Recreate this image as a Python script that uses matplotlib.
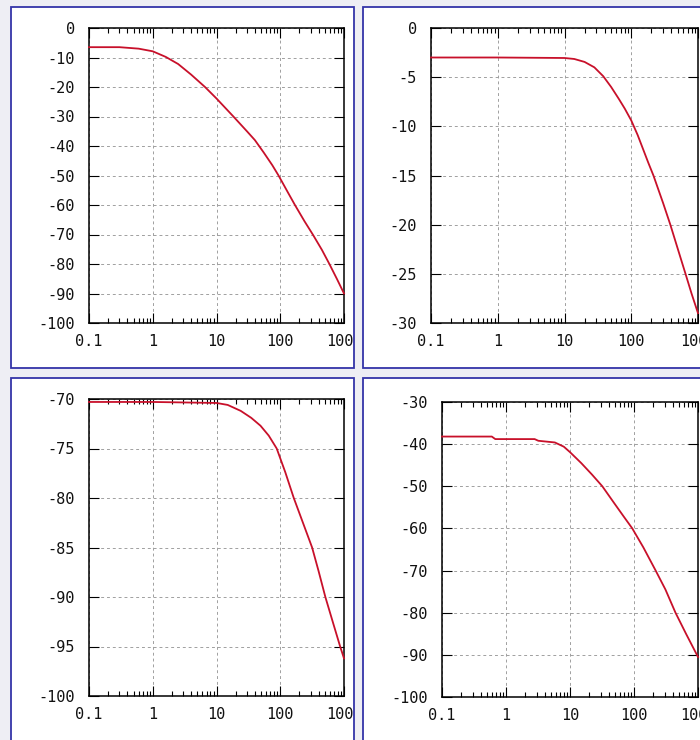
import numpy as np
import matplotlib
matplotlib.use("Agg")
import matplotlib.pyplot as plt
from matplotlib.patches import Rectangle
from matplotlib.transforms import Bbox, TransformedBbox
from matplotlib.ticker import LogLocator, NullFormatter

plt.rcParams['font.family'] = ['DejaVu Sans Mono', 'DejaVu Sans']
plt.rcParams['axes.unicode_minus'] = False

# values (frequency, gain)
freq_tl = [0.1, 0.3, 0.6, 1, 1.6, 2.5, 4, 6.6, 10, 18.4, 30, 40, 55, 75, 94, 130, 170, 240, 324, 450, 590, 780, 1000]
gain_tl = [-6.5, -6.5, -7.0, -7.9, -9.8, -12.2, -15.8, -20, -23.9, -30, -35, -38, -42.2, -46.5, -50, -55.5,
           -60, -65.5, -70, -75.2, -80, -85.2, -90]

freq_tr = [0.1, 1, 10, 14, 20, 28, 38, 50, 65, 80, 100, 125, 150, 180, 215, 260, 300, 385, 500, 650, 800, 1000]
gain_tr = [-3, -3, -3.05, -3.15, -3.45, -4.0, -4.9, -6.0, -7.2, -8.2, -9.4, -10.9, -12.3, -13.7, -15, -16.6,
           -17.8, -20, -22.5, -25, -27, -29]

freq_bl = [0.1, 1, 10, 15, 24, 35, 49, 66, 88, 120, 163, 230, 316, 400, 510, 680, 870, 1000]
gain_bl = [-70.3, -70.3, -70.4, -70.6, -71.2, -71.9, -72.7, -73.7, -75, -77.4, -80, -82.6, -85, -87.4, -90,
           -92.7, -95, -96.2]

freq_br = [0.1, 0.6, 0.68, 2.8, 3.2, 5.8, 8, 10, 15, 22, 32, 48, 70, 94, 140, 218, 310, 445, 650, 1000]
gain_br = [-38.2, -38.2, -38.8, -38.8, -39.2, -39.6, -40.6, -41.9, -44.5, -47.2, -50, -53.8, -57.3, -60,
           -64.5, -70, -74.5, -80, -85, -90.5]

x_ticks = [0.1, 1, 10, 100, 1000]
x_tick_labels = ['0.1', '1', '10', '100', '1000']

yticks_tl = list(range(0, -101, -10))
yticks_tr = list(range(0, -31, -5))
yticks_bl = list(range(-70, -101, -5))
yticks_br = list(range(-30, -101, -10))

W, H = 700, 740
fig = plt.figure(figsize=(W / 100, H / 100), dpi=100, facecolor='#eeeef4')


def box(x0, y0, x1, y1):
    # pixel box (y down) -> figure fraction [left, bottom, width, height]
    return [x0 / W, 1 - y1 / H, (x1 - x0) / W, (y1 - y0) / H]


panels = [
    # panel box, axes box, data, y ticks
    ((11, 7, 354, 368), (89, 28, 344, 323), freq_tl, gain_tl, yticks_tl),
    ((363, 7, 760, 368), (431, 28, 698, 323), freq_tr, gain_tr, yticks_tr),
    ((11, 378, 354, 780), (89, 399, 344, 696), freq_bl, gain_bl, yticks_bl),
    ((363, 378, 760, 780), (442, 402, 698, 697), freq_br, gain_br, yticks_br),
]

for pbox, abox, fx, gy, yt in panels:
    pr = box(*pbox)
    fig.patches.append(Rectangle((pr[0], pr[1]), pr[2], pr[3], transform=fig.transFigure,
                                 facecolor='white', edgecolor='#3434a8', linewidth=1.3, zorder=-1))
    clip = TransformedBbox(Bbox.from_bounds(*pr), fig.transFigure)

    ax = fig.add_axes(box(*abox))
    ax.set_facecolor('white')
    ax.plot(fx, gy, color='#c8102a', linewidth=1.3, clip_on=False, zorder=3)
    ax.set_xscale('log')
    ax.set_xlim(0.1, 1000)
    ax.set_ylim(yt[-1], yt[0])
    ax.set_xticks(x_ticks)
    ax.set_xticklabels(x_tick_labels)
    ax.set_yticks(yt)
    ax.set_yticklabels([str(v) for v in yt])
    ax.xaxis.set_minor_locator(LogLocator(base=10, subs=np.arange(2, 10)))
    ax.xaxis.set_minor_formatter(NullFormatter())
    ax.tick_params(which='both', direction='in', top=True, right=True, color='black', width=0.8)
    ax.tick_params(which='major', length=7, labelsize=11, labelcolor='#111111')
    ax.tick_params(axis='y', which='major', pad=10)
    ax.tick_params(axis='x', which='major', pad=8)
    ax.tick_params(which='minor', length=3.5)
    ax.grid(True, which='major', linestyle=(0, (3, 3)), color='#a0a0a0', linewidth=0.7)
    for sp in ax.spines.values():
        sp.set_linewidth(1.1)
    for lab in ax.get_xticklabels() + ax.get_yticklabels():
        lab.set_clip_box(clip)
        lab.set_clip_on(True)

fig.savefig('out.png', dpi=100, facecolor=fig.get_facecolor())
